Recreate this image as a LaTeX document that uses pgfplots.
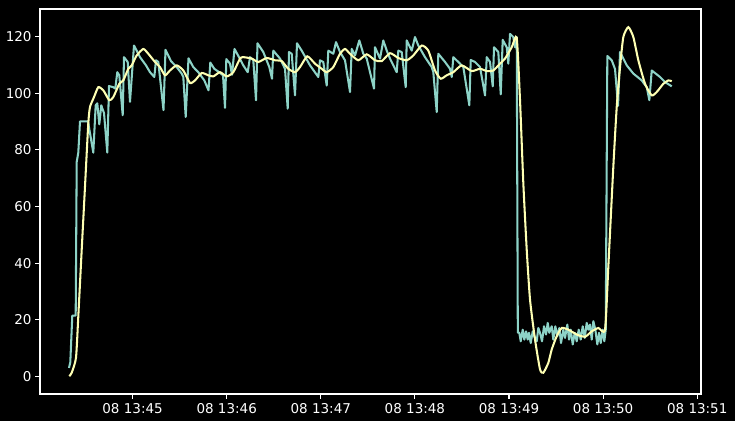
\documentclass[border=0pt]{standalone}
\usepackage{pgfplots}
\pgfplotsset{compat=1.18}
\usepackage{fontspec}
\setmainfont{DejaVu Sans}
\usetikzlibrary{backgrounds,calc}
\definecolor{tealc}{HTML}{8DD3C7}
\definecolor{yelc}{HTML}{FEFFB3}
\begin{document}
\begin{tikzpicture}
\begin{axis}[name=ax, width=661pt, height=385pt, scale only axis,
 xmin=-59.04, xmax=362.4, ymin=-6.2, ymax=129.7,
 axis background/.style={fill=black},
 axis line style={white, line width=1.1pt},
 every tick/.style={white, line width=1.1pt},
 tick align=outside, major tick length=4.9pt,
 xtick={0,60,120,180,240,300,360},
 xticklabels={08 13:45,08 13:46,08 13:47,08 13:48,08 13:49,08 13:50,08 13:51},
 ytick={0,20,40,60,80,100,120},
 xtick pos=bottom, ytick pos=left,
 ticklabel style={text=white, font=\fontsize{13.5}{16}\selectfont},
 /pgf/number format/assume math mode=true,
 xticklabel style={yshift=-1pt},
]
\addplot[tealc, line width=2.05pt, line join=round] coordinates {
(-40.55,3) (-39.72,5) (-38.45,21.5) (-36.28,21.5) (-35.64,75.7) (-34.62,79) (-33.54,90) (-28.44,90)
(-25.06,79) (-23.53,95.7) (-22.51,96.4) (-21.23,89) (-19.96,95.7) (-19.32,94.6) (-18.24,93) (-16.13,79)
(-15.05,102.5) (-12.31,102.1) (-11.03,101.6) (-9.76,107.4) (-8.48,106.3) (-6.31,92.2) (-5.48,112.7)
(-3.12,111) (-1.66,96.9) (0.89,116.8) (2.61,115) (4.72,112.7) (8.54,109.8) (11.09,107.4) (13.84,105.7)
(14.92,111.6) (16.39,111) (19.70,94) (20.98,115.3) (24.48,111.3) (28.12,109.2) (31.31,106.9) (32.33,105.7)
(33.86,91.6) (35.64,112.3) (38.70,109.2) (41.89,107.4) (45.72,104.5) (48.40,101) (49.54,110.8) (52.09,108.6)
(54.64,107.6) (57.64,106.3) (58.92,94.8) (59.75,112) (62.10,110.4) (63.38,106.5) (64.97,115.6) (67.84,112.7)
(70.58,109.8) (73.39,107.4) (74.86,112.7) (76.96,111.6) (78.68,97.5) (79.64,117.6) (83.34,114.5) (87.16,109.2)
(88.88,105.1) (89.71,115) (93.99,112.2) (97.17,108.6) (98.89,94.5) (99.72,114.5) (101.44,113.9) (103.55,99.2)
(104.82,117.6) (107.82,115) (113.11,109.8) (118.41,105.7) (119.49,111.6) (121.59,111) (123.76,102.7)
(124.78,115) (127.97,113.9) (129.69,118) (132.24,114.5) (135.43,111.6) (138.62,100.4) (139.70,115.6)
(141.81,113.3) (144.55,118.6) (147.10,113.9) (149.27,112.2) (153.92,101.6) (154.56,116.2) (157.75,112.2)
(159.85,118.6) (162.02,115) (164.12,112.2) (168.39,107.4) (169.42,115) (171.58,114.5) (174.13,102.1)
(174.77,118.6) (177.96,115) (180.06,119.8) (182.17,116.8) (186.44,112.7) (190.71,109.2) (191.73,107.4)
(193.90,93.3) (194.92,113.9) (199.19,111) (202.38,108.6) (203.46,105.7) (204.48,112.7) (207.67,111)
(210.86,109.2) (214.69,95.7) (215.58,111.7) (218.32,111) (221.51,109.2) (224.70,99.2) (225.78,112.7)
(227.88,111) (229.61,102.4) (230.44,116.2) (233.18,114.5) (234.71,99.6) (235.98,118.8) (238.53,116.2)
(239.55,110.4) (240.64,120.9) (242.74,119.8) (243.83,116.2) (244.91,119.8) (245.61,15.5)
(246.57,15.4) (247.46,12.4) (248.73,16.5) (249.76,13) (250.84,15.9) (251.92,13) (252.75,15.4) (253.84,11.8)
(255.11,15.9) (256.13,14.2) (257.66,12.4) (258.68,17.1) (259.76,15.4) (261.04,12.4) (262.31,17.7)
(263.59,14.8) (264.67,18.9) (265.69,15.4) (267.22,17.7) (268.24,13) (269.52,17.7) (270.79,14.2)
(272.07,17.1) (273.15,11.8) (274.62,16.5) (275.71,13.6) (277.17,18.3) (278.26,13) (279.34,16.5)
(280.62,11.3) (281.89,15.4) (283.17,12.4) (284.44,16.5) (285.72,13) (286.99,17.7) (288.27,13.6)
(289.54,18.9) (290.56,16.5) (291.65,18.3) (292.73,13) (293.75,19.5) (295.03,16.5) (296.30,11.3)
(297.39,15.4) (298.47,11.8) (299.75,16.5) (300.77,12.4) (301.66,16.5)
(302.68,113.1) (305.48,111.6) (307.59,108.5) (309.50,95.5) (310.78,114.5) (315.05,109.8) (319.26,106.9)
(324.61,104.5) (327.80,102.1) (329.46,97.5) (330.99,108) (336.28,105.7) (339.47,103.9) (343.74,102.4)
};
\addplot[yelc, line width=2.05pt, smooth, tension=0.35] coordinates {
(-40.36,0.1) (-38.83,1.3) (-36.09,6.6) (-34.62,21.2) (-32.45,44.7) (-30.35,67) (-28.25,89.3) (-27.16,95.1)
(-24.61,98.6) (-21.87,102.1) (-18.68,101) (-14.86,97.5) (-12.31,98.6) (-8.48,103.3) (-5.93,104.5)
(-2.74,108.6) (-0.57,109.8) (2.61,113.3) (6.82,115.6) (10.01,113.9) (14.28,111) (17.47,109.2) (20.66,106.3)
(23.85,108) (28.12,109.8) (32.33,108) (36.60,103.6) (39.79,104.5) (44.06,107.1) (48.27,106.3) (51.46,105.9)
(55.73,107.4) (60.00,105.9) (64.21,107.4) (68.48,112.2) (70.58,112.7) (75.94,112.2) (80.15,111)
(85.50,112.4) (90.80,111.6) (95.07,111.3) (99.28,108.6) (103.55,107.4) (106.74,109.2) (111.39,113)
(116.30,110.4) (120.57,108.6) (123.76,107.4) (127.97,109.2) (132.24,113.9) (135.43,115.6) (138.62,113.9)
(143.91,111.6) (149.27,113.7) (154.56,111.6) (158.83,111.3) (164.12,114.1) (169.42,112.4) (174.77,111.6)
(178.98,113.3) (184.34,116.8) (188.54,115) (192.81,108) (196.45,105.1) (200.27,106.3) (204.48,107.4)
(209.84,109.8) (216.22,107.8) (221.51,108.6) (225.78,107.8) (229.99,108) (234.26,110.4) (237.45,112.2)
(241.72,116.2) (244.91,119.5) (247.01,97.5) (249.12,68.2) (251.29,44.7) (253.39,27.1) (256.58,13)
(259.76,2.5) (261.87,1.3) (265.06,4.8) (267.22,9.5) (270.41,14.2) (273.60,17.1) (277.81,16.5) (283.17,14.8)
(288.46,14) (292.73,15.9) (296.94,17.1) (301.21,16.5) (303.32,38.8) (306.50,74) (308.67,95.1) (310.78,109.2)
(312.88,119.8) (316.07,123.3) (319.26,119.8) (322.45,111.6) (326.72,103.3) (330.99,99.2) (334.18,100.4)
(338.38,103.3) (341.57,104.5) (343.74,104.2)
};
\end{axis}
\begin{pgfonlayer}{background}
\fill[black] ($(ax.south west)+(-40pt,-27pt)$) rectangle ($(ax.north east)+(34pt,9pt)$);
\end{pgfonlayer}
\end{tikzpicture}
\end{document}
